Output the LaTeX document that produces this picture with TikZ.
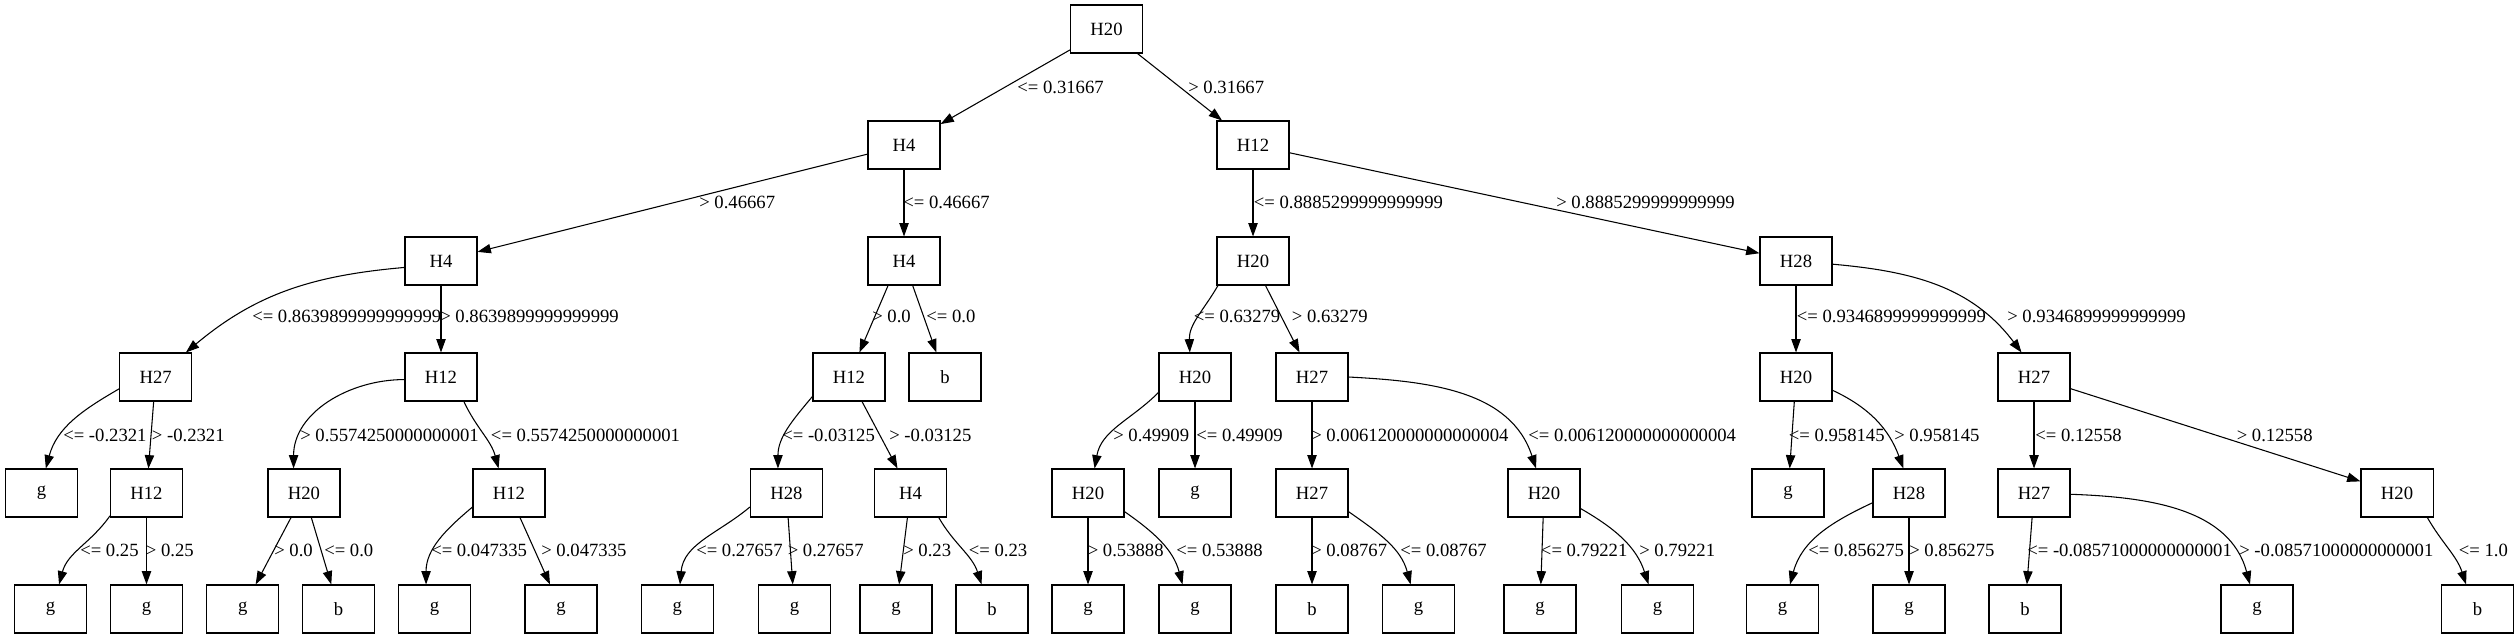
\documentclass[tikz,border=0pt]{standalone}
\usepackage{fontspec}
\setmainfont{Liberation Serif}
\usetikzlibrary{arrows.meta}
\tikzset{
  box/.style={draw, rectangle, line width=0.8pt, minimum width=54pt, minimum height=36pt, inner sep=0pt, font=\fontsize{14}{16}\selectfont},
  edge/.style={draw, line width=0.8pt, -{Triangle[length=10pt,width=7pt]}},
  lbl/.style={anchor=west, inner sep=0pt, font=\fontsize{14}{16}\selectfont}
}
\begin{document}
\begin{tikzpicture}[x=0.75pt,y=0.75pt]
\useasboundingbox (0,0) rectangle (2519,-639);
% row 0
\node[box] (n0) at (1106.5,-29) {H20};
% row 1
\node[box] (n1) at (904,-145) {H4};
\node[box] (n2) at (1253,-145) {H12};
% row 2
\node[box] (n3) at (441,-261) {H4};
\node[box] (n4) at (904,-261) {H4};
\node[box] (n5) at (1253,-261) {H20};
\node[box] (n6) at (1796,-261) {H28};
% row 3
\node[box] (n7) at (155.6,-377) {H27};
\node[box] (n8) at (441,-377) {H12};
\node[box] (n9) at (849,-377) {H12};
\node[box] (n10) at (945,-377) {b};
\node[box] (n11) at (1195,-377) {H20};
\node[box] (n12) at (1312,-377) {H27};
\node[box] (n13) at (1796,-377) {H20};
\node[box] (n14) at (2034,-377) {H27};
% row 4
\node[box] (n15) at (41.5,-493) {g};
\node[box] (n16) at (146.5,-493) {H12};
\node[box] (n17) at (304,-493) {H20};
\node[box] (n18) at (509,-493) {H12};
\node[box] (n19) at (786.4,-493) {H28};
\node[box] (n20) at (910.5,-493) {H4};
\node[box] (n21) at (1088,-493) {H20};
\node[box] (n22) at (1195,-493) {g};
\node[box] (n23) at (1312,-493) {H27};
\node[box] (n24) at (1544,-493) {H20};
\node[box] (n25) at (1788,-493) {g};
\node[box] (n26) at (1909,-493) {H28};
\node[box] (n27) at (2034,-493) {H27};
\node[box] (n28) at (2397,-493) {H20};
% row 5
\node[box] (n29) at (50.6,-609) {g};
\node[box] (n30) at (146.5,-609) {g};
\node[box] (n31) at (242.7,-609) {g};
\node[box] (n32) at (338.6,-609) {b};
\node[box] (n33) at (434.5,-609) {g};
\node[box] (n34) at (561,-609) {g};
\node[box] (n35) at (677.4,-609) {g};
\node[box] (n36) at (794.5,-609) {g};
\node[box] (n37) at (896,-609) {g};
\node[box] (n38) at (992,-609) {b};
\node[box] (n39) at (1088,-609) {g};
\node[box] (n40) at (1195,-609) {g};
\node[box] (n41) at (1312,-609) {b};
\node[box] (n42) at (1418.6,-609) {g};
\node[box] (n43) at (1540,-609) {g};
\node[box] (n44) at (1657.5,-609) {g};
\node[box] (n45) at (1782.5,-609) {g};
\node[box] (n46) at (1909,-609) {g};
\node[box] (n47) at (2025,-609) {b};
\node[box] (n48) at (2257,-609) {g};
\node[box] (n49) at (2477.5,-609) {b};

% straight edges
\path[edge] (n0) -- (n1);
\path[edge] (n0) -- (n2);
\path[edge] (n1) -- (n3);
\path[edge] (n1) -- (n4);
\path[edge] (n2) -- (n5);
\path[edge] (n2) -- (n6);
\path[edge] (n3) -- (n8);
\path[edge] (n4) -- (n10);
\path[edge] (n5) -- (n12);
\path[edge] (n6) -- (n13);
\path[edge] (n7) -- (n16);
\path[edge] (n9) -- (n20);
\path[edge] (n11) -- (n22);
\path[edge] (n12) -- (n23);
\path[edge] (n13) -- (n25);
\path[edge] (n14) -- (n27);
\path[edge] (n14) -- (n28);
\path[edge] (n16) -- (n30);
\path[edge] (n17) -- (n31);
\path[edge] (n17) -- (n32);
\path[edge] (n18) -- (n34);
\path[edge] (n19) -- (n36);
\path[edge] (n20) -- (n37);
\path[edge] (n21) -- (n39);
\path[edge] (n23) -- (n41);
\path[edge] (n24) -- (n43);
\path[edge] (n26) -- (n46);
\path[edge] (n27) -- (n47);
% curved edges
\path[edge] (n3.190) to[out=185,in=40] (n7.39);
\path[edge] (n4.237) -- (n9.67);
\path[edge] (n5.215) to[out=240,in=92] (n11.102);
\path[edge] (n6.-5) to[out=-5,in=127] (n14.117);
\path[edge] (n7.198) to[out=210,in=75] (n15.80);
\path[edge] (n8.184) to[out=180,in=90] (n17.113);
\path[edge] (n8.-47) to[out=-65,in=105] (n18.113);
\path[edge] (n9.208) to[out=230,in=90] (n19.109);
\path[edge] (n11.203) to[out=225,in=80] (n21.75);
\path[edge] (n12.0) to[out=-3,in=108] (n24.108);
\path[edge] (n13.-20) to[out=-25,in=110] (n26.103);
\path[edge] (n16.212) to[out=235,in=75] (n29.71);
\path[edge] (n18.201) to[out=220,in=90] (n33.109);
\path[edge] (n19.201) to[out=220,in=85] (n35.84);
\path[edge] (n20.-41) to[out=-60,in=108] (n38.113);
\path[edge] (n21.-27) to[out=-35,in=105] (n40.117);
\path[edge] (n23.-27) to[out=-35,in=105] (n42.108);
\path[edge] (n24.-23) to[out=-30,in=108] (n44.110);
\path[edge] (n26.195) to[out=205,in=75] (n45.73);
\path[edge] (n27.-2) to[out=-2,in=105] (n48.106);
\path[edge] (n28.-39) to[out=-60,in=108] (n49.115);

% labels
\node[lbl] (l1) at (1017,-87) {<= 0.31667};
\node[lbl] (l2) at (1188,-87) {> 0.31667};
\node[lbl] (l3) at (699,-202) {> 0.46667};
\node[lbl] (l4) at (903,-202) {<= 0.46667};
\node[lbl] (l5) at (1253.6,-202) {<= 0.8885299999999999};
\node[lbl] (l6) at (1556,-202) {> 0.8885299999999999};
\node[lbl] (l7) at (252,-316) {<= 0.8639899999999999};
\node[lbl] (l8) at (440,-316) {> 0.8639899999999999};
\node[lbl] (l9) at (872,-316) {> 0.0};
\node[lbl] (l10) at (926,-316) {<= 0.0};
\node[lbl] (l11) at (1193.6,-316) {<= 0.63279};
\node[lbl] (l12) at (1291.6,-316) {> 0.63279};
\node[lbl] (l13) at (1796.6,-316) {<= 0.9346899999999999};
\node[lbl] (l14) at (2007,-316) {> 0.9346899999999999};
\node[lbl] (l15) at (63,-435) {<= -0.2321};
\node[lbl] (l16) at (151.6,-435) {> -0.2321};
\node[lbl] (l17) at (300,-435) {> 0.5574250000000001};
\node[lbl] (l18) at (490.7,-435) {<= 0.5574250000000001};
\node[lbl] (l19) at (782,-435) {<= -0.03125};
\node[lbl] (l20) at (889,-435) {> -0.03125};
\node[lbl] (l21) at (1113,-435) {> 0.49909};
\node[lbl] (l22) at (1196,-435) {<= 0.49909};
\node[lbl] (l23) at (1311,-435) {> 0.006120000000000004};
\node[lbl] (l24) at (1528,-435) {<= 0.006120000000000004};
\node[lbl] (l25) at (1788.6,-435) {<= 0.958145};
\node[lbl] (l26) at (1894,-435) {> 0.958145};
\node[lbl] (l27) at (2035,-435) {<= 0.12558};
\node[lbl] (l28) at (2236.5,-435) {> 0.12558};
\node[lbl] (l29) at (80,-550.7) {<= 0.25};
\node[lbl] (l30) at (145.7,-550.7) {> 0.25};
\node[lbl] (l31) at (274,-550.7) {> 0.0};
\node[lbl] (l32) at (324,-550.7) {<= 0.0};
\node[lbl] (l33) at (431,-550.7) {<= 0.047335};
\node[lbl] (l34) at (541,-550.7) {> 0.047335};
\node[lbl] (l35) at (696,-550.7) {<= 0.27657};
\node[lbl] (l36) at (787.5,-550.7) {> 0.27657};
\node[lbl] (l37) at (903,-550.7) {> 0.23};
\node[lbl] (l38) at (968.6,-550.7) {<= 0.23};
\node[lbl] (l39) at (1087.5,-550.7) {> 0.53888};
\node[lbl] (l40) at (1176,-550.7) {<= 0.53888};
\node[lbl] (l41) at (1311,-550.7) {> 0.08767};
\node[lbl] (l42) at (1400,-550.7) {<= 0.08767};
\node[lbl] (l43) at (1540.7,-550.7) {<= 0.79221};
\node[lbl] (l44) at (1639,-550.7) {> 0.79221};
\node[lbl] (l45) at (1808,-550.7) {<= 0.856275};
\node[lbl] (l46) at (1909,-550.7) {> 0.856275};
\node[lbl] (l47) at (2027,-550.7) {<= -0.08571000000000001};
\node[lbl] (l48) at (2239,-550.7) {> -0.08571000000000001};
\node[lbl] (l49) at (2458.5,-550.7) {<= 1.0};
\end{tikzpicture}
\end{document}
